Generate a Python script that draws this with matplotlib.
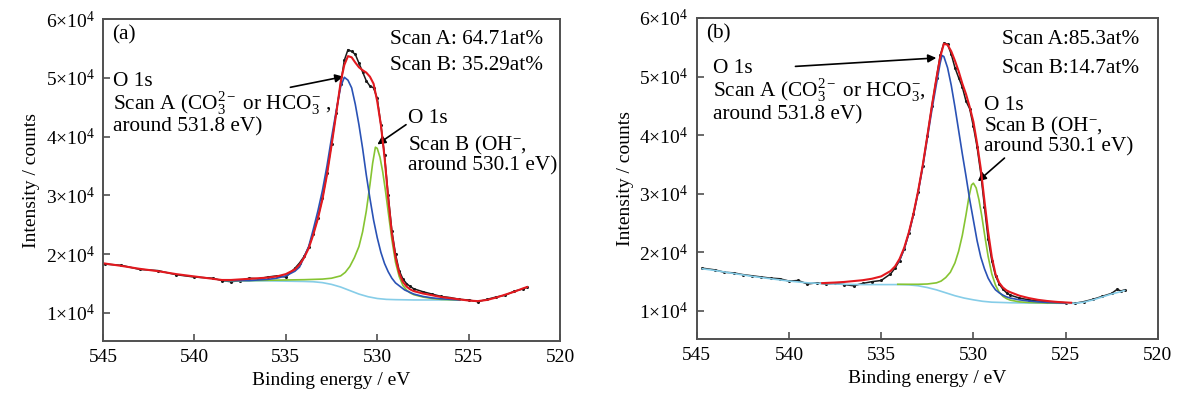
import matplotlib
matplotlib.use("Agg")
import matplotlib.pyplot as plt
import numpy as np

plt.rcParams['font.family'] = ['Liberation Serif', 'DejaVu Serif']
plt.rcParams['mathtext.fontset'] = 'custom'
plt.rcParams['mathtext.rm'] = 'Liberation Serif'
plt.rcParams['mathtext.it'] = 'Liberation Serif:italic'
plt.rcParams['mathtext.bf'] = 'Liberation Serif:bold'

# ---------------- Panel (a) data (counts x 1e3) ----------------
a_raw_E = [544.9, 544, 543, 542, 541, 540, 539, 538.5, 538, 537.5, 537, 536.5, 536, 535.5, 535, 534.5,
           534.25, 534, 533.75, 533.5, 533.25, 533, 532.75, 532.5, 532.25, 532, 531.8, 531.6, 531.4, 531.2,
           531, 530.8, 530.6, 530.4, 530.2, 530, 529.8, 529.6, 529.4, 529.2, 529, 528.8, 528.6, 528.4,
           528.2, 528, 527.5, 527, 526.5, 526, 525.5, 525, 524.5, 524, 523.5, 523, 522.5, 522, 521.8]
a_raw = [18.3, 18.1, 17.4, 17.2, 16.5, 16.1, 15.9, 15.5, 15.3, 15.5, 15.9, 15.8, 16.1, 16.3, 16.1, 17.6,
         18.5, 19.6, 21.2, 23.5, 26.2, 29.5, 33.8, 38.8, 44.0, 49.0, 53.0, 54.8, 54.5, 54.0,
         52.5, 51.0, 49.5, 48.6, 48.3, 46.5, 42.0, 36.8, 30.0, 24.0, 20.0, 17.2, 15.8, 15.0,
         14.5, 14.1, 13.6, 13.2, 12.8, 12.6, 12.3, 12.2, 11.9, 12.3, 12.7, 13.0, 13.7, 14.1, 14.4]
a_fit = [18.4, 18.0, 17.5, 17.1, 16.6, 16.2, 15.8, 15.6, 15.6, 15.7, 15.8, 15.9, 16.0, 16.2, 16.6, 17.4,
         18.2, 19.4, 21.0, 23.3, 26.0, 29.3, 33.5, 38.5, 43.8, 49.3, 52.2, 53.7, 53.5, 52.6,
         51.8, 51.3, 50.9, 50.2, 49.0, 46.0, 42.0, 36.5, 29.5, 23.5, 19.5, 16.8, 15.3, 14.5,
         14.0, 13.7, 13.3, 13.0, 12.7, 12.5, 12.3, 12.1, 12.0, 12.2, 12.6, 13.1, 13.6, 14.2, 14.4]

a_A_E = [538.3, 537, 536, 535.5, 535, 534.5, 534.25, 534, 533.75, 533.5, 533.25, 533, 532.75, 532.5,
         532.25, 532, 531.8, 531.6, 531.4, 531.2, 531, 530.8, 530.6, 530.4, 530.2, 530, 529.8, 529.6,
         529.4, 529.2, 529, 528.5, 528, 527.5, 527, 526.5, 526, 525.5]
a_A = [15.5, 15.5, 15.7, 15.9, 16.3, 17.1, 17.8, 19.5, 21.3, 24.2, 27.3, 30.8, 35.0, 39.8,
       44.3, 48.5, 50.1, 49.6, 48.3, 45.5, 42.0, 38.0, 33.5, 29.5, 25.8, 22.8, 20.3, 18.4,
       17.0, 15.9, 15.1, 13.9, 13.2, 12.8, 12.55, 12.4, 12.3, 12.2]

a_B_E = [538.3, 537, 536, 535, 534, 533, 532.5, 532, 531.75, 531.5, 531.25, 531, 530.8, 530.6, 530.4,
         530.25, 530.1, 530, 529.85, 529.7, 529.55, 529.4, 529.2, 529, 528.8, 528.6, 528.4, 528.2, 528,
         527.5, 527, 526.5, 526, 525.5]
a_B = [15.5, 15.5, 15.55, 15.6, 15.65, 15.75, 15.9, 16.3, 16.9, 17.9, 19.4, 21.3, 23.8, 27.3, 31.8,
       35.5, 38.2, 38.0, 36.5, 34.0, 30.8, 27.2, 22.5, 18.6, 16.2, 14.7, 13.9, 13.4, 13.1,
       12.7, 12.45, 12.3, 12.25, 12.2]

a_bg_E = [538.3, 537, 536, 535, 534, 533.5, 533, 532.5, 532, 531.5, 531, 530.5, 530, 529.5, 529, 528,
          527, 526, 525.5]
a_bg = [15.5, 15.45, 15.45, 15.4, 15.35, 15.3, 15.15, 14.85, 14.4, 13.8, 13.2, 12.75, 12.45, 12.3,
        12.25, 12.2, 12.2, 12.2, 12.2]

# ---------------- Panel (b) data (counts x 1e3) ----------------
b_raw_E = [544.7, 544, 543.5, 543, 542.5, 542, 541.5, 541, 540.5, 540, 539.5, 539, 538.5, 538, 537.5,
           537, 536.5, 536, 535.5, 535, 534.5, 534.25, 534, 533.75, 533.5, 533.25, 533, 532.75, 532.5,
           532.25, 532, 531.8, 531.6, 531.4, 531.2, 531, 530.8, 530.6, 530.4, 530.2, 530, 529.8, 529.6,
           529.4, 529.2, 529, 528.8, 528.6, 528.4, 528.2, 528, 527.5, 527, 526.5, 526, 525.5, 525,
           524.5, 524, 523.5, 523, 522.5, 522.2, 522, 521.8]
b_raw = [17.3, 17.0, 16.6, 16.5, 16.2, 16.0, 15.8, 15.6, 15.5, 15.1, 15.2, 14.6, 14.8, 14.6, 14.7,
         14.5, 14.3, 14.7, 15.0, 15.2, 16.3, 17.3, 18.6, 20.6, 23.3, 26.5, 30.3, 34.7, 39.8,
         45.0, 49.8, 53.6, 55.7, 55.5, 53.8, 51.5, 49.8, 48.2, 45.8, 44.5, 41.5, 38.0, 33.5,
         27.8, 22.3, 18.6, 16.0, 14.6, 13.7, 13.1, 12.7, 12.2, 11.9, 11.7, 11.6, 11.5, 11.4,
         11.3, 11.6, 12.0, 12.5, 13.0, 13.7, 13.4, 13.6]

b_fit_E = [538.2, 537.5, 537, 536.5, 536, 535.5, 535, 534.5, 534.25, 534, 533.75, 533.5, 533.25, 533,
           532.75, 532.5, 532.25, 532, 531.8, 531.6, 531.4, 531.2, 531, 530.8, 530.6, 530.4, 530.2,
           530, 529.8, 529.6, 529.4, 529.2, 529, 528.8, 528.6, 528.4, 528.2, 528, 527.5, 527, 526.5,
           526, 525.5, 525, 524.7]
b_fit = [14.75, 14.85, 14.95, 15.1, 15.25, 15.5, 15.9, 16.8, 17.6, 18.9, 20.8, 23.4, 26.6, 30.4,
         34.8, 39.8, 45.0, 49.8, 53.3, 55.6, 55.4, 54.3, 52.7, 50.9, 48.8, 47.0, 44.8,
         42.3, 38.6, 34.3, 28.8, 23.5, 19.2, 16.3, 14.8, 14.0, 13.5, 13.2, 12.6, 12.2, 11.9,
         11.7, 11.55, 11.45, 11.4]

b_A_E = [534.1, 534, 533.75, 533.5, 533.25, 533, 532.75, 532.5, 532.25, 532, 531.8, 531.7, 531.6,
         531.4, 531.2, 531, 530.8, 530.6, 530.4, 530.2, 530, 529.8, 529.6, 529.4, 529.2, 529, 528.8,
         528.6, 528.4, 528.2, 528, 527.5, 527, 526.5, 526, 525.5, 525]
b_A = [18.2, 18.7, 20.6, 23.2, 26.4, 30.2, 34.5, 39.4, 44.3, 48.8, 52.3, 53.6, 53.4,
       51.5, 48.5, 44.8, 40.8, 36.8, 33.0, 29.0, 25.5, 22.0, 19.2, 17.2, 15.6, 14.5, 13.6,
       13.1, 12.7, 12.4, 12.2, 11.9, 11.7, 11.55, 11.45, 11.4, 11.35]

b_B_E = [534.1, 533, 532.5, 532, 531.75, 531.5, 531.25, 531, 530.8, 530.6, 530.4, 530.25, 530.1, 530,
         529.85, 529.7, 529.55, 529.4, 529.2, 529, 528.8, 528.6, 528.4, 528.2, 528, 527.5, 527, 526.5,
         526, 525.5, 525]
b_B = [14.55, 14.55, 14.6, 14.8, 15.1, 15.7, 16.6, 18.2, 20.2, 22.9, 26.4, 29.3, 31.5, 31.8,
       31.0, 29.0, 26.3, 23.2, 19.3, 16.3, 14.4, 13.2, 12.5, 12.1, 11.85, 11.55, 11.45, 11.4,
       11.35, 11.35, 11.35]

b_bg_E = [544.7, 544, 543, 542, 541, 540, 539, 538, 537, 536, 535, 534, 533.5, 533, 532.5, 532, 531.5,
          531, 530.5, 530, 529.5, 529, 528, 527, 526, 525, 524.5, 524, 523.5, 523, 522.5, 522, 521.8]
b_bg = [17.2, 16.9, 16.4, 15.9, 15.5, 15.1, 14.8, 14.65, 14.55, 14.5, 14.5, 14.5, 14.45, 14.3, 14.0,
        13.6, 13.1, 12.6, 12.2, 11.9, 11.65, 11.5, 11.4, 11.35, 11.35, 11.3, 11.3, 11.5, 11.9,
        12.4, 12.9, 13.3, 13.5]

y_ticks = [1, 2, 3, 4, 5, 6]
x_ticks = [545, 540, 535, 530, 525, 520]

C_RAW = '#1a1a1a'
C_FIT = '#e3191f'
C_A = '#2a52b5'
C_B = '#86c432'
C_BG = '#86cde8'
SPINE = '#505050'

fig = plt.figure(figsize=(11.79, 3.98), dpi=100)
ax_a = fig.add_axes([0.0874, 0.143, 0.3876, 0.809])
ax_b = fig.add_axes([0.591, 0.148, 0.391, 0.807])

def k(v):
    return np.array(v) * 1e3

def style(ax):
    ax.set_xlim(545, 520)
    ax.set_ylim(5200, 60000)
    ax.set_xticks(x_ticks)
    ax.set_xticklabels([str(t) for t in x_ticks])
    ax.set_yticks([t * 1e4 for t in y_ticks])
    ax.set_yticklabels([r'$%d{\times}10^4$' % t for t in y_ticks])
    ax.tick_params(direction='in', length=5, width=1.2, color=SPINE, labelsize=14, pad=6,
                   top=False, right=False)
    for s in ax.spines.values():
        s.set_color(SPINE)
        s.set_linewidth(1.4)
    ax.set_xlabel('Binding energy / eV', fontsize=14, labelpad=4)
    ax.set_ylabel('Intensity / counts', fontsize=14, labelpad=4)

fs = 15.3

# panel a
ax = ax_a
ax.plot(a_raw_E, k(a_raw), color=C_RAW, lw=1.1, marker='o', ms=1.2, zorder=1)
ax.plot(a_bg_E, k(a_bg), color=C_BG, lw=1.2, zorder=2)
ax.plot(a_B_E, k(a_B), color=C_B, lw=1.2, zorder=3)
ax.plot(a_A_E, k(a_A), color=C_A, lw=1.2, zorder=4)
ax.plot(a_raw_E, k(a_fit), color=C_FIT, lw=1.5, zorder=5)
style(ax)
ax.text(0.02, 0.95, '(a)', transform=ax.transAxes, fontsize=fs, va='center', ha='left')
ax.text(0.627, 0.937, 'Scan A: 64.71at%', transform=ax.transAxes, fontsize=fs, va='center')
ax.text(0.627, 0.856, 'Scan B: 35.29at%', transform=ax.transAxes, fontsize=fs, va='center')
ax.text(0.022, 0.805, 'O 1s', transform=ax.transAxes, fontsize=fs, va='center')
ax.text(0.022, 0.738, r'Scan A (CO$_3^{2-}$ or HCO$_3^{-}$ ,', transform=ax.transAxes, fontsize=fs, va='center')
ax.text(0.022, 0.666, 'around 531.8 eV)', transform=ax.transAxes, fontsize=fs, va='center')
ax.text(0.667, 0.69, 'O 1s', transform=ax.transAxes, fontsize=fs, va='center')
ax.text(0.667, 0.608, r'Scan B (OH$^{-}$,', transform=ax.transAxes, fontsize=fs, va='center')
ax.text(0.667, 0.545, 'around 530.1 eV)', transform=ax.transAxes, fontsize=fs, va='center')
ax.annotate('', xy=(531.7, 50300), xytext=(534.9, 48300),
            arrowprops=dict(arrowstyle='-|>', color='black', lw=1.2, mutation_scale=12))
ax.annotate('', xy=(530.12, 38400), xytext=(528.3, 42300),
            arrowprops=dict(arrowstyle='-|>', color='black', lw=1.2, mutation_scale=12))

# panel b
ax = ax_b
ax.plot(b_raw_E, k(b_raw), color=C_RAW, lw=1.1, marker='o', ms=1.2, zorder=1)
ax.plot(b_bg_E, k(b_bg), color=C_BG, lw=1.2, zorder=2)
ax.plot(b_B_E, k(b_B), color=C_B, lw=1.2, zorder=3)
ax.plot(b_A_E, k(b_A), color=C_A, lw=1.2, zorder=4)
ax.plot(b_fit_E, k(b_fit), color=C_FIT, lw=1.5, zorder=5)
style(ax)
ax.text(0.02, 0.95, '(b)', transform=ax.transAxes, fontsize=fs, va='center', ha='left')
ax.text(0.663, 0.932, 'Scan A:85.3at%', transform=ax.transAxes, fontsize=fs, va='center')
ax.text(0.663, 0.842, 'Scan B:14.7at%', transform=ax.transAxes, fontsize=fs, va='center')
ax.text(0.036, 0.842, 'O 1s', transform=ax.transAxes, fontsize=fs, va='center')
ax.text(0.036, 0.772, r'Scan A (CO$_3^{2-}$ or HCO$_3^{-}$,', transform=ax.transAxes, fontsize=fs, va='center')
ax.text(0.036, 0.697, 'around 531.8 eV)', transform=ax.transAxes, fontsize=fs, va='center')
ax.text(0.622, 0.728, 'O 1s', transform=ax.transAxes, fontsize=fs, va='center')
ax.text(0.622, 0.663, r'Scan B (OH$^{-}$,', transform=ax.transAxes, fontsize=fs, va='center')
ax.text(0.622, 0.599, 'around 530.1 eV)', transform=ax.transAxes, fontsize=fs, va='center')
ax.annotate('', xy=(531.86, 53200), xytext=(539.8, 51700),
            arrowprops=dict(arrowstyle='-|>', color='black', lw=1.2, mutation_scale=12))
ax.annotate('', xy=(529.87, 31800), xytext=(528.2, 36400),
            arrowprops=dict(arrowstyle='-|>', color='black', lw=1.2, mutation_scale=12))

fig.savefig('out.png', dpi=100)
